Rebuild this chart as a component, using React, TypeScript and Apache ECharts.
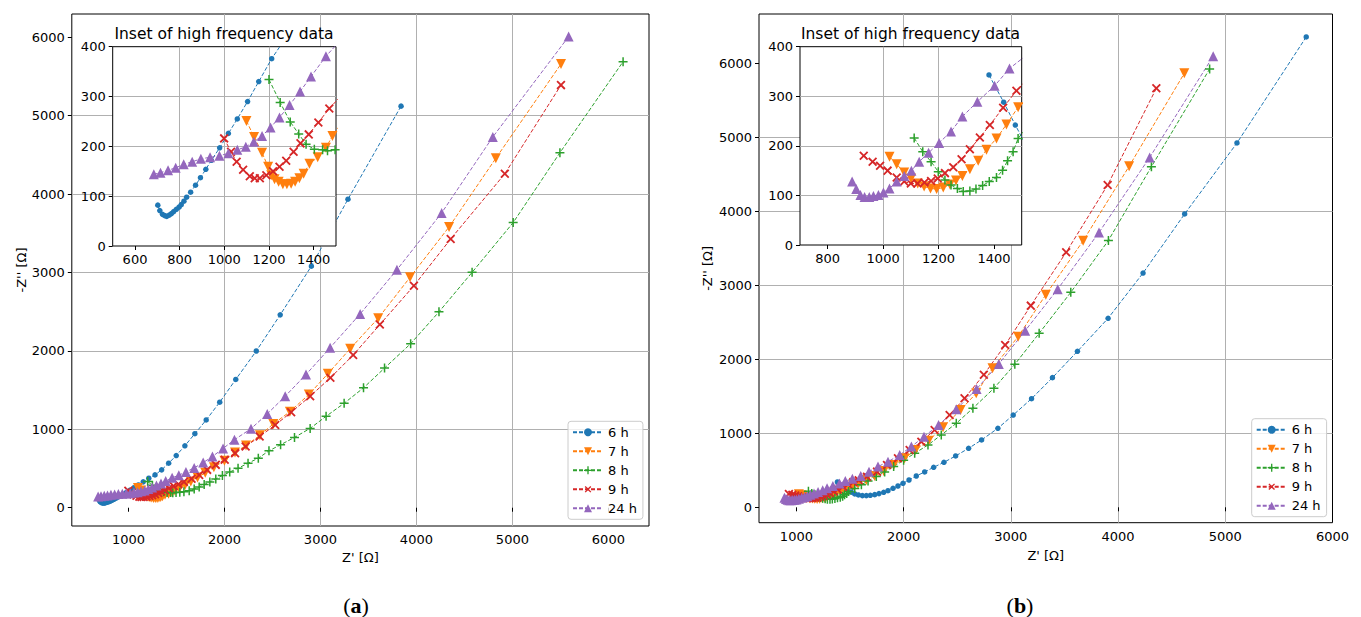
import React, { useEffect, useRef } from 'react';
import * as echarts from 'echarts';

const SERIES_NAMES = ['6 h', '7 h', '8 h', '9 h', '24 h'];
const COLORS = ['#1f77b4', '#ff7f0e', '#2ca02c', '#d62728', '#9467bd'];
const PLUS = 'path://M5,0H7V5H12V7H7V12H5V7H0V5H5Z';
const SYMBOLS = ['circle', 'triangle', PLUS, PLUS, 'triangle'];
const SYMBOL_SIZES = [5.5, 10, 9, 11, 10];
const SYMBOL_ROTATE = [0, 180, 0, 45, 0];

const MAIN_X_TICKS = [1000, 2000, 3000, 4000, 5000, 6000];
const MAIN_Y_TICKS = [0, 1000, 2000, 3000, 4000, 5000, 6000];
const L_INSET_X_TICKS = [600, 800, 1000, 1200, 1400];
const R_INSET_X_TICKS = [800, 1000, 1200, 1400];
const INSET_Y_TICKS = [0, 100, 200, 300, 400];

// Panel (a)
const a6h = [[702,82],[711,71],[723,63.5],[733,61],[742,59.5],[753,62],[763,65],[773,69],[785,73.6],[797,78],[807,83],[819,90],[831,98],[849,108],[871,122],[893,137],[917,154],[942,172],[979,197],[1018,226],[1058,255],[1104,290],[1154,330],[1212,376],[1277,419],[1346,483],[1419,568],[1498,666],[1588,790],[1692,944],[1810,1119],[1951,1346],[2118,1636],[2332,1999],[2581,2460],[2906,3081],[3287,3935],[3840,5122]];
const a7h = [[1099,251],[1133,219],[1169,187],[1196,159],[1210,142],[1225,134],[1243,129],[1262,124],[1280,124],[1299,125],[1317,129],[1336,136],[1355,145],[1381,165],[1418,178],[1455,197],[1484,221],[1530,250],[1590,290],[1650,335],[1720,385],[1800,445],[1890,515],[2000,600],[2110,705],[2225,795],[2370,925],[2509,1068],[2682,1225],[2879,1443],[3077,1708],[3310,2028],[3602,2417],[3933,2938],[4340,3581],[4827,4456],[5506,5659]];
const a8h = [[1200,334],[1250,288],[1295,249],[1333,225],[1366,204],[1403,194],[1440,193],[1462,191],[1496,193],[1535,196],[1578,203],[1633,218],[1685,240],[1737,265],[1789,295],[1848,329],[1910,367],[1979,410],[2055,455],[2142,504],[2246,568],[2353,632],[2464,726],[2585,803],[2730,897],[2893,1012],[3059,1166],[3247,1332],[3449,1529],[3668,1781],[3940,2092],[4235,2498],[4580,3002],[5008,3637],[5495,4528],[6153,5689]];
const a9h = [[999,216],[1030,189],[1055,169],[1084,153],[1114,140],[1136,136],[1159,136],[1188,142],[1218,150],[1247,159],[1277,171],[1310,189],[1341,206],[1378,224],[1421,248],[1470,276],[1520,300],[1578,330],[1657,370],[1737,418],[1820,483],[1910,547],[2003,611],[2111,696],[2221,781],[2367,909],[2529,1055],[2695,1217],[2893,1422],[3104,1657],[3341,1947],[3619,2336],[3974,2831],[4357,3428],[4921,4259],[5506,5390]];
const a24h = [[684,144],[714,147],[748,152],[782,157],[818,164],[856,169],[895,175],[936,178],[978,181],[1018,186],[1058,193],[1096,199],[1132,209],[1169,221],[1207,238],[1247,258],[1292,283],[1339,310],[1388,340],[1455,381],[1525,415],[1599,457],[1685,508],[1779,576],[1875,653],[1986,756],[2104,867],[2277,1008],[2446,1196],[2633,1422],[2850,1699],[3101,2041],[3414,2472],[3797,3035],[4263,3760],[4796,4729],[5586,6009]];

// Panel (b)
const b6h = [[1382,343],[1435,288],[1477,242],[1512,205],[1544,180],[1578,167],[1615,158],[1652,158],[1689,162],[1730,171],[1770,185],[1814,203],[1854,225],[1901,257],[1947,288],[1994,324],[2050,369],[2118,423],[2196,478],[2280,541],[2376,608],[2485,694],[2606,797],[2727,910],[2879,1068],[3022,1247],[3193,1468],[3388,1752],[3621,2108],[3907,2554],[4233,3166],[4621,3964],[5109,4923],[5755,6356]];
const b7h = [[1023,178],[1049,163],[1076,146],[1101,134],[1125,124],[1148,118],[1171,114],[1193,113],[1217,116],[1241,122],[1263,130],[1286,139],[1313,153],[1343,170],[1373,192],[1409,215],[1445,243],[1487,278],[1530,298],[1575,320],[1652,369],[1730,423],[1814,491],[1907,572],[2009,662],[2112,775],[2233,901],[2367,1081],[2531,1315],[2677,1541],[2829,1878],[3068,2306],[3326,2873],[3674,3601],[4103,4608],[4618,5865]];
const b8h = [[1112,216],[1143,188],[1173,168],[1199,148],[1223,131],[1245,121],[1268,114],[1289,108],[1313,109],[1335,113],[1359,120],[1383,128],[1409,136],[1431,151],[1449,170],[1469,188],[1487,215],[1544,255],[1606,305],[1668,355],[1745,415],[1823,478],[1907,552],[2000,635],[2103,730],[2227,842],[2351,978],[2491,1135],[2646,1338],[2842,1608],[3037,1932],[3264,2351],[3559,2905],[3910,3606],[4311,4603],[4854,5923]];
const b9h = [[930,180],[962,168],[989,160],[1016,150],[1049,136],[1076,128],[1100,124],[1124,124],[1149,126],[1173,129],[1197,134],[1223,145],[1253,157],[1283,173],[1313,193],[1349,217],[1385,242],[1433,277],[1481,311],[1530,340],[1581,365],[1658,414],[1752,482],[1845,572],[1947,662],[2056,775],[2165,887],[2289,1045],[2429,1248],[2568,1473],[2748,1792],[2947,2193],[3186,2725],[3516,3446],[3903,4356],[4357,5662]];
const b24h = [[888,128],[903,113],[918,101],[933,97],[950,97],[965,99],[983,101],[1001,106],[1023,114],[1049,128],[1076,139],[1102,150],[1130,168],[1164,186],[1202,206],[1245,229],[1286,259],[1340,289],[1402,321],[1456,356],[1522,385],[1600,423],[1677,482],[1761,550],[1854,617],[1963,707],[2072,820],[2190,955],[2326,1113],[2491,1324],[2680,1599],[2888,1937],[3134,2387],[3437,2948],[3822,3714],[4295,4728],[4887,6095]];

const PANEL_A = [a6h, a7h, a8h, a9h, a24h];
const PANEL_B = [b6h, b7h, b8h, b9h, b24h];

const FONT = 'DejaVu Sans';
const SERIF = 'Liberation Serif';

function valAxis(gridIndex: number, min: number, max: number, ticks: number[], z: number, extra: any = {}) {
  return {
    type: 'value', gridIndex, min, max, z,
    axisLine: { show: false },
    axisTick: { show: true, inside: false, length: 4, lineStyle: { color: '#000', width: 1 }, customValues: ticks },
    axisLabel: { show: true, customValues: ticks, color: '#000', fontSize: 13, fontFamily: FONT, margin: 7, formatter: (v: number) => String(v) },
    splitLine: { show: true, showMinLine: false, showMaxLine: false, lineStyle: { color: '#b0b0b0', width: 1 } },
    nameTextStyle: { fontSize: 13, color: '#000', fontFamily: FONT },
    ...extra,
  };
}

function mkSeries(idx: number, data: number[][], axisIndex: number, z: number) {
  return {
    type: 'line', name: SERIES_NAMES[idx], data,
    xAxisIndex: axisIndex, yAxisIndex: axisIndex, z,
    symbol: SYMBOLS[idx], symbolSize: SYMBOL_SIZES[idx], symbolRotate: SYMBOL_ROTATE[idx],
    showAllSymbol: true, clip: true, smooth: false, silent: true,
    lineStyle: { color: COLORS[idx], width: 1, type: [4, 2] },
    itemStyle: { color: COLORS[idx] },
    emphasis: { disabled: true },
  };
}

function mkLegend(left: number, top: number) {
  return {
    data: SERIES_NAMES, orient: 'vertical', left, top,
    itemWidth: 30, itemHeight: 10, itemGap: 5, padding: [4, 6, 4, 4],
    backgroundColor: 'rgba(255,255,255,0.8)', borderColor: '#cccccc', borderWidth: 1, borderRadius: 3,
    selectedMode: false, z: 20,
    textStyle: { fontSize: 13, color: '#000', fontFamily: FONT, lineHeight: 14 },
  };
}

export default function App() {
  const ref = useRef<HTMLDivElement>(null);
  useEffect(() => {
    if (!ref.current) return;
    const chart = echarts.init(ref.current, null, { renderer: 'svg' });
    const series: any[] = [];
    PANEL_A.forEach((d, i) => series.push(mkSeries(i, d, 0, 2)));
    PANEL_A.forEach((d, i) => series.push(mkSeries(i, d, 1, 12)));
    PANEL_B.forEach((d, i) => series.push(mkSeries(i, d, 2, 2)));
    PANEL_B.forEach((d, i) => series.push(mkSeries(i, d, 3, 12)));
    chart.setOption({
      animation: false,
      backgroundColor: '#fff',
      grid: [
        { left: 71.8, top: 14, width: 577.2, height: 512, show: true, borderColor: '#000', borderWidth: 1, backgroundColor: 'transparent', containLabel: false, outerBoundsMode: 'none', z: 0 },
        { left: 112.7, top: 46.7, width: 223.3, height: 199.3, show: true, borderColor: '#000', borderWidth: 1, backgroundColor: '#fff', containLabel: false, outerBoundsMode: 'none', z: 10 },
        { left: 759, top: 14, width: 573.5, height: 508.7, show: true, borderColor: '#000', borderWidth: 1, backgroundColor: 'transparent', containLabel: false, outerBoundsMode: 'none', z: 0 },
        { left: 800, top: 46.7, width: 221.7, height: 198.3, show: true, borderColor: '#000', borderWidth: 1, backgroundColor: '#fff', containLabel: false, outerBoundsMode: 'none', z: 10 },
      ],
      xAxis: [
        valAxis(0, 410, 6423, MAIN_X_TICKS, 1, { name: "Z' [Ω]", nameLocation: 'middle', nameGap: 25 }),
        valAxis(1, 500, 1500, L_INSET_X_TICKS, 11),
        valAxis(2, 651, 6000, MAIN_X_TICKS, 1, { name: "Z' [Ω]", nameLocation: 'middle', nameGap: 26 }),
        valAxis(3, 700, 1500, R_INSET_X_TICKS, 11),
      ],
      yAxis: [
        valAxis(0, -233, 6297, MAIN_Y_TICKS, 1, { name: "-Z'' [Ω]", nameLocation: 'middle', nameGap: 29 }),
        valAxis(1, 0, 400, INSET_Y_TICKS, 11),
        valAxis(2, -208, 6666, MAIN_Y_TICKS, 1, { name: "-Z'' [Ω]", nameLocation: 'middle', nameGap: 45 }),
        valAxis(3, 0, 400, INSET_Y_TICKS, 11),
      ],
      legend: [mkLegend(568, 421.3), mkLegend(1251.7, 418.7)],
      graphic: [
        { type: 'text', x: 224, y: 33.5, z: 30, style: { text: 'Inset of high frequency data', fontSize: 15.5, fontFamily: FONT, fill: '#000', align: 'center', verticalAlign: 'middle' } },
        { type: 'text', x: 910.5, y: 34, z: 30, style: { text: 'Inset of high frequency data', fontSize: 15.5, fontFamily: FONT, fill: '#000', align: 'center', verticalAlign: 'middle' } },
        { type: 'text', x: 356, y: 605, z: 30, style: { text: '({b|a})', fontSize: 22, fontFamily: SERIF, fill: '#000', align: 'center', verticalAlign: 'middle', rich: { b: { fontWeight: 'bold', fontSize: 22, fontFamily: SERIF } } } },
        { type: 'text', x: 1020, y: 605, z: 30, style: { text: '({b|b})', fontSize: 22, fontFamily: SERIF, fill: '#000', align: 'center', verticalAlign: 'middle', rich: { b: { fontWeight: 'bold', fontSize: 22, fontFamily: SERIF } } } },
      ],
      series,
    });
    return () => chart.dispose();
  }, []);
  return <div ref={ref} style={{ position: 'absolute', left: 0, top: 0, width: 1361, height: 617, background: '#fff' }} />;
}
